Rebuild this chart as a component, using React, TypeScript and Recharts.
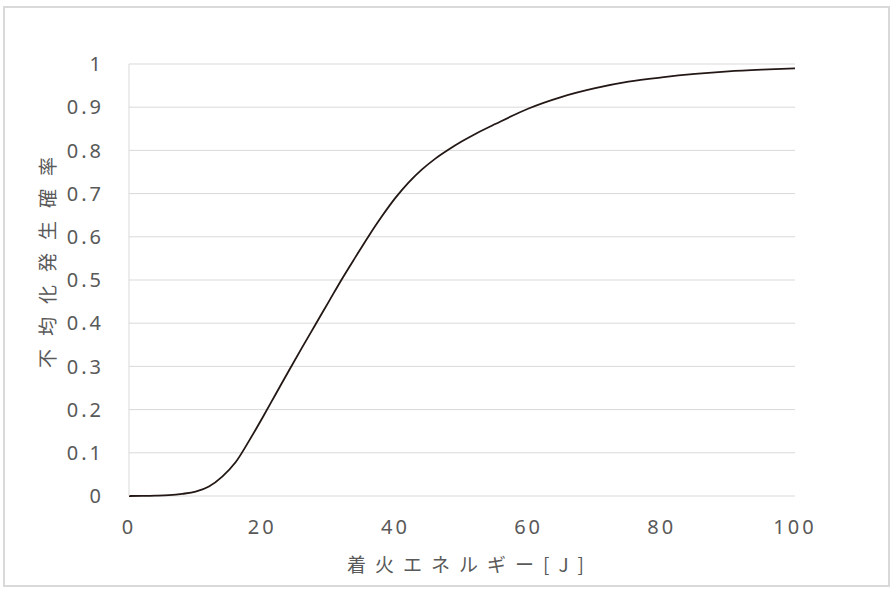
import React from "react";
import { LineChart, Line, XAxis, YAxis, CartesianGrid } from "recharts";

const energyJ = [0, 2, 4, 6, 8, 10, 12, 14, 16, 18, 20, 22, 24, 26, 28, 30, 32, 34, 36, 38, 40, 42, 44, 46, 48, 50, 52, 55, 60, 65, 70, 75, 80, 85, 90, 95, 100];
const probability = [0, 0.0002, 0.0008, 0.002, 0.005, 0.01, 0.022, 0.045, 0.078, 0.127, 0.18, 0.235, 0.29, 0.344, 0.397, 0.45, 0.503, 0.553, 0.602, 0.648, 0.69, 0.726, 0.756, 0.781, 0.802, 0.821, 0.838, 0.861, 0.897, 0.924, 0.944, 0.959, 0.969, 0.977, 0.983, 0.987, 0.99];
const xTicks = [0, 20, 40, 60, 80, 100];
const yTicks = [0, 0.1, 0.2, 0.3, 0.4, 0.5, 0.6, 0.7, 0.8, 0.9, 1];
const xTitle = "着火エネルギー[J]";
const yTitle = "不均化発生確率";

const data = energyJ.map((x, i) => ({ x, p: probability[i] }));

const TEXT = "#595959";
const FONT = "'Noto Sans', 'Noto Sans CJK JP', sans-serif";
const CJK = "'Noto Sans CJK JP', 'Noto Sans', sans-serif";

const XTitle = (props: any) => {
  const vb = props.viewBox || {};
  return (
    <text
      x={vb.x + vb.width / 2 + 8}
      y={vb.y + 67}
      textAnchor="middle"
      dominantBaseline="central"
      fill={TEXT}
      fontSize={19}
      fontFamily={CJK}
      letterSpacing={9}
    >
      {xTitle}
    </text>
  );
};

const YTitle = (props: any) => {
  const vb = props.viewBox || {};
  const cx = vb.x - 23;
  const cy = vb.y + 186 + 6;
  return (
    <text
      x={cx}
      y={cy}
      transform={`rotate(-90 ${cx} ${cy})`}
      textAnchor="middle"
      dominantBaseline="central"
      fill={TEXT}
      fontSize={19}
      fontFamily={CJK}
      letterSpacing={13}
    >
      {yTitle}
    </text>
  );
};

export default function App() {
  return (
    <div style={{ position: "absolute", left: 0, top: 0, width: 891, height: 593, background: "#fff" }}>
      <div
        style={{
          position: "absolute",
          left: 3,
          top: 6,
          width: 883,
          height: 577,
          border: "2px solid #d9d9d9",
        }}
      />
      <div style={{ position: "absolute", left: 0, top: 0 }}>
        <LineChart
          width={891}
          height={593}
          data={data}
          margin={{ top: 64, right: 96, bottom: 37, left: 69 }}
        >
          <CartesianGrid horizontal vertical={false} stroke="#d9d9d9" strokeWidth={1} />
          <XAxis
            dataKey="x"
            type="number"
            domain={[0, 100]}
            ticks={xTicks}
            height={60}
            axisLine={false}
            tickLine={false}
            tickSize={0}
            tickMargin={24}
            tick={{ fill: TEXT, fontSize: 20, fontFamily: FONT, letterSpacing: 3 }}
            label={<XTitle />}
          />
          <YAxis
            type="number"
            domain={[0, 1]}
            ticks={yTicks}
            width={60}
            axisLine={{ stroke: "#d9d9d9", strokeWidth: 1 }}
            tickLine={false}
            tickSize={0}
            tickMargin={25}
            tickFormatter={(v: number) => String(Math.round(v * 10) / 10)}
            tick={{ fill: TEXT, fontSize: 20, fontFamily: FONT, letterSpacing: 3 }}
            label={<YTitle />}
          />
          <Line
            type="monotone"
            dataKey="p"
            stroke="#231815"
            strokeWidth={1.8}
            dot={false}
            isAnimationActive={false}
          />
        </LineChart>
      </div>
    </div>
  );
}
